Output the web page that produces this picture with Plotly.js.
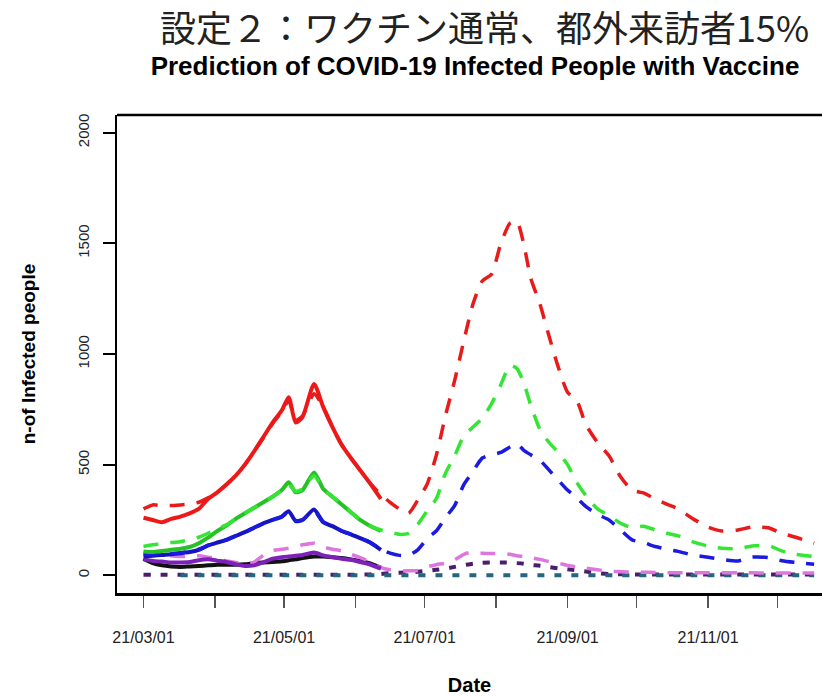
<!DOCTYPE html>
<html><head><meta charset="utf-8">
<script src="https://cdn.plot.ly/plotly-3.0.1.min.js"></script>
<style>html,body{margin:0;padding:0;background:#fff;overflow:hidden}#chart{width:822px;height:696px}</style>
</head><body><div id="chart"></div>
<script>
// ---- data ----
const obsDates = ['2021-03-01','2021-03-05','2021-03-09','2021-03-13','2021-03-17','2021-03-21','2021-03-25','2021-03-29',
  '2021-04-02','2021-04-06','2021-04-10','2021-04-14','2021-04-18','2021-04-22','2021-04-26','2021-04-30',
  '2021-05-03','2021-05-06','2021-05-09','2021-05-14','2021-05-18','2021-05-22','2021-05-26','2021-05-30',
  '2021-06-03','2021-06-07','2021-06-12'];
const laterDates = ['2021-06-16','2021-06-20','2021-06-24','2021-06-28','2021-07-02','2021-07-06','2021-07-10','2021-07-14',
  '2021-07-18','2021-07-22','2021-07-26','2021-07-30','2021-08-03','2021-08-07','2021-08-10','2021-08-13',
  '2021-08-16','2021-08-20','2021-08-24','2021-08-28','2021-09-01','2021-09-05','2021-09-09','2021-09-14',
  '2021-09-19','2021-09-24','2021-09-29','2021-10-04','2021-10-09','2021-10-14','2021-10-19','2021-10-25',
  '2021-11-01','2021-11-07','2021-11-14','2021-11-20','2021-11-27','2021-12-03','2021-12-09','2021-12-17'];
const predDates = obsDates.concat(laterDates);
const tealDates = predDates.slice(4);

const redObs = [260,250,240,255,265,280,300,345,375,410,450,500,560,625,690,745,805,690,715,865,760,670,590,530,475,420,345];
const redPred = [300,318,315,315,318,322,330,350,375,410,450,500,560,620,685,740,790,700,720,820,760,670,590,530,475,420,365,
  330,300,280,340,410,540,720,880,1060,1227,1330,1360,1497,1591,1600,1497,1344,1227,1080,940,
  827,790,680,600,540,445,385,372,345,322,300,258,218,200,205,218,215,190,172,145];
const greenObs = [108,105,110,115,120,128,145,170,200,225,255,280,305,330,355,385,420,375,385,465,390,355,320,285,250,225,200];
const greenPred = [130,138,142,148,152,160,172,190,210,228,255,280,305,330,355,385,410,380,390,450,390,355,320,285,250,225,205,
  195,185,190,230,290,345,460,540,630,670,710,775,860,948,935,870,770,660,600,555,
  500,420,360,300,270,235,215,222,205,190,178,152,132,122,120,132,135,110,95,85];
const blueObs = [85,88,92,95,100,105,115,135,148,160,178,195,215,235,250,265,290,245,250,297,240,222,200,185,168,150,115];
const bluePred = [95,95,95,98,102,108,118,135,150,160,178,195,215,235,250,265,285,248,252,290,240,222,200,185,168,150,118,
  100,90,90,115,165,200,260,315,410,470,530,545,555,580,595,565,545,520,475,430,
  385,350,310,275,250,205,160,148,130,118,108,92,82,72,65,82,80,66,58,50];
const violetPred = [100,105,95,88,85,85,88,82,75,65,58,52,60,90,112,118,122,130,138,145,128,118,110,95,80,62,35,
  25,20,20,22,38,48,55,70,95,106,100,98,100,95,88,85,80,72,62,55,
  45,38,32,25,18,16,15,14,13,12,12,12,11,11,11,11,10,10,10,10];
const purpleObs = [72,65,62,58,58,60,68,72,66,60,50,42,45,58,75,82,85,88,92,103,90,82,75,70,60,50,30];
const blackObs = [75,55,45,40,38,40,42,45,48,48,48,50,55,58,60,63,68,72,78,85,85,82,78,72,65,55,35];
const indigoPred = [3,3,3,3,3,3,3,3,3,3,3,3,3,3,3,3,3,3,3,3,3,3,3,3,3,4,6,
  10,12,14,16,20,25,30,38,46,52,57,58,58,57,55,52,47,43,37,31,
  27,22,17,10,6,5,4,4,4,4,4,4,4,4,4,4,4,4,4,4];
const tealVals = [0,0,0,0,0,0,0,0,0,0,0,0,0,0,0,0,0,0,0,0,0,0,0,
  0,0,0,0,0,0,0,0,0,0,0,0,0,0,0,0,0,0,0,0,0,0,0,0,0,0,0,0,0,0,0,0,0,0,0,0,0,0,0,0];

const yTicks = [0,500,1000,1500,2000];

// ---- styles ----
const DASH = '15px,12px';
const DOT = '7px,10px';
function tr(x, y, color, width, dash, name) {
  return {x: x, y: y, type: 'scatter', mode: 'lines', name: name,
    line: {color: color, width: width, dash: dash || 'solid', shape: 'spline', smoothing: 0.6},
    hoverinfo: 'skip'};
}
const data = [
  tr(obsDates, blackObs, '#111111', 4, null, 'black observed'),
  tr(predDates, indigoPred, '#4a1d6e', 4, DOT, 'indigo predicted'),
  tr(tealDates, tealVals, '#22667f', 4, DOT, 'teal predicted'),
  tr(predDates, violetPred, '#dd77dd', 3.5, DASH, 'violet predicted'),
  tr(obsDates, purpleObs, '#7c22b8', 4, null, 'purple observed'),
  tr(obsDates, blueObs, '#1414c0', 4, null, 'blue observed'),
  tr(predDates, bluePred, '#1a1ae0', 3.5, DASH, 'blue predicted'),
  tr(obsDates, greenObs, '#27c027', 4, null, 'green observed'),
  tr(predDates, greenPred, '#33e633', 3.5, DASH, 'green predicted'),
  tr(obsDates, redObs, '#ee1818', 4, null, 'red observed'),
  tr(predDates, redPred, '#e81a1a', 3.5, DASH, 'red predicted')
];

const layout = {
  width: 822, height: 696,
  margin: {l: 117, r: 0, t: 115, b: 103},
  paper_bgcolor: '#ffffff', plot_bgcolor: '#ffffff',
  showlegend: false,
  font: {family: 'Liberation Sans, Arial, sans-serif', color: '#111'},
  title: {
    text: '<b>Prediction of COVID-19 Infected People with Vaccine</b>',
    font: {family: 'Liberation Sans, Arial, sans-serif', size: 26, color: '#000'},
    x: 475/822, xanchor: 'center', xref: 'container',
    y: 1 - 66/696, yanchor: 'middle', yref: 'container'
  },
  xaxis: {
    type: 'date',
    range: ['2021-02-17 12:00', '2021-12-20 10:00'],
    tick0: '2021-03-01', dtick: 'M2', tickformat: '%y/%m/%d',
    ticks: 'outside', ticklen: 12, tickwidth: 1.5, tickcolor: '#555',
    minor: {ticks: 'outside', tick0: '2021-03-01', dtick: 'M1', ticklen: 12, tickwidth: 1.5, tickcolor: '#555', showgrid: false},
    ticklabelstandoff: 16,
    tickfont: {size: 16, color: '#222'},
    showline: true, linecolor: '#000', linewidth: 2.5,
    showgrid: false, zeroline: false,
    title: {text: '<b>Date</b>', font: {size: 20, color: '#000'}, standoff: 35}
  },
  yaxis: {
    range: [-80, 2080],
    tickvals: yTicks, ticktext: yTicks.map(String),
    tickangle: -90,
    ticks: 'outside', ticklen: 12, tickwidth: 2, tickcolor: '#000',
    ticklabelstandoff: 8,
    tickfont: {size: 15, color: '#222'},
    showline: true, linecolor: '#000', linewidth: 2.5,
    showgrid: false, zeroline: false,
    title: {text: '<b>n-of Infected people</b>', font: {size: 19, color: '#000'}, standoff: 34}
  },
  shapes: [
    {type: 'line', xref: 'paper', yref: 'paper', x0: 0, x1: 1, y0: 1, y1: 1, line: {color: '#000', width: 2.5}}
  ],
  annotations: [
    {text: '設定２：ワクチン通常、都外来訪者15%', xref: 'paper', yref: 'paper',
     x: (484-117)/705, y: 1 + (115-26)/478, xanchor: 'center', yanchor: 'middle', showarrow: false,
     font: {family: 'Noto Sans CJK JP, sans-serif', size: 36, color: '#222'}}
  ]
};

Plotly.newPlot('chart', data, layout, {displayModeBar: false, staticPlot: true});
</script>
</body></html>
